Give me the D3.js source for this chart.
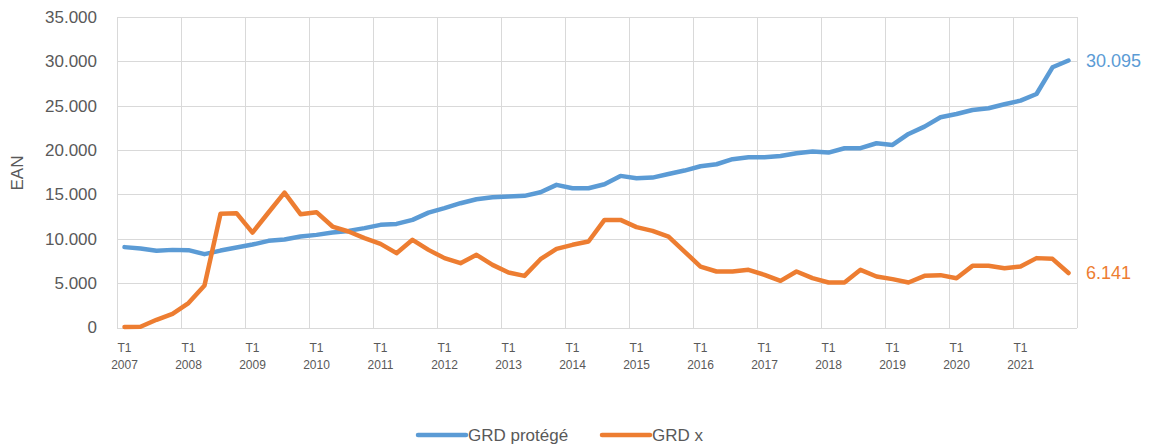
<!DOCTYPE html>
<html lang="fr">
<head>
<meta charset="utf-8">
<title>EAN GRD</title>
<script src="https://d3js.org/d3.v7.min.js"></script>
<style>
  html, body { margin: 0; padding: 0; background: #fff; }
  svg { display: block; font-family: "Liberation Sans", Arial, sans-serif; }
  .grid line { stroke: #d9d9d9; stroke-width: 1px; shape-rendering: crispEdges; }
  .axis text { fill: #595959; }
</style>
</head>
<body>
<svg id="chart" width="1151" height="445"></svg>
<script>
// quarterly data, T1 2007 .. T4 2021
var years = [2007, 2008, 2009, 2010, 2011, 2012, 2013, 2014, 2015, 2016, 2017, 2018, 2019, 2020, 2021];
var quarters = ["T1", "T2", "T3", "T4"];
var yTicks = [0, 5000, 10000, 15000, 20000, 25000, 30000, 35000];

var grdProtege = [
  9060, 8900, 8640, 8750,
  8720, 8270, 8670, 9010,
  9350, 9770, 9910, 10250,
  10440, 10700, 10890, 11200,
  11570, 11680, 12130, 12950,
  13450, 14010, 14460, 14690,
  14760, 14840, 15250, 16080,
  15700, 15700, 16150, 17090,
  16830, 16900, 17310, 17690,
  18180, 18400, 18970, 19190,
  19190, 19340, 19640, 19830,
  19720, 20210, 20210, 20770,
  20580, 21820, 22640, 23700,
  24070, 24520, 24710, 25160,
  25570, 26320, 29330, 30095
];
var grdX = [
  60, 80, 870, 1540,
  2750, 4730, 12810, 12890,
  10700, 12960, 15210, 12770,
  13000, 11380, 10820, 10070,
  9430, 8380, 9880, 8750,
  7820, 7250, 8190, 7060,
  6200, 5820, 7700, 8870,
  9320, 9690, 12130, 12130,
  11310, 10890, 10250, 8560,
  6870, 6310, 6310, 6500,
  5940, 5260, 6310, 5560,
  5070, 5070, 6500, 5750,
  5450, 5070, 5820, 5900,
  5560, 6950, 6950, 6690,
  6870, 7820, 7740, 6141
];

var categories = [];
years.forEach(function(y) {
  quarters.forEach(function(q) { categories.push({ q: q, year: y }); });
});

var series = [
  { name: "GRD protégé", values: grdProtege, color: "#5b9bd5" },
  { name: "GRD x", values: grdX, color: "#ed7d31" }
];

var fmt = function(v) { return d3.format(",")(v).replace(/,/g, "."); };

var svg = d3.select("#chart");
var plotLeft = 116.5, plotRight = 1076.5, plotTop = 17, plotBottom = 327.5;

var x = d3.scaleBand().domain(d3.range(categories.length)).range([plotLeft, plotRight]).paddingInner(0).paddingOuter(0);
var y = d3.scaleLinear().domain([0, 35000]).range([plotBottom, plotTop]);
var cx = function(i) { return x(i) + x.bandwidth() / 2; };

// horizontal gridlines
svg.append("g").attr("class", "grid")
  .selectAll("line").data(yTicks).enter().append("line")
  .attr("x1", plotLeft).attr("x2", plotRight)
  .attr("y1", function(d) { return Math.round(y(d)) + 0.5; })
  .attr("y2", function(d) { return Math.round(y(d)) + 0.5; });

// vertical gridlines every year
var vIdx = d3.range(categories.length).filter(function(i) { return i % 4 === 0; });
svg.append("g").attr("class", "grid")
  .selectAll("line").data(vIdx.map(function(i) { return x(i); }).concat([plotRight])).enter().append("line")
  .attr("x1", function(d) { return Math.round(d) + 0.5; })
  .attr("x2", function(d) { return Math.round(d) + 0.5; })
  .attr("y1", plotTop).attr("y2", plotBottom);

// y axis labels
svg.append("g").attr("class", "axis")
  .selectAll("text").data(yTicks).enter().append("text")
  .attr("x", 97).attr("y", function(d) { return y(d); })
  .attr("dy", "0.35em")
  .attr("text-anchor", "end")
  .style("font-size", "17px")
  .text(fmt);

svg.append("text")
  .attr("transform", "translate(23,173) rotate(-90)")
  .attr("text-anchor", "middle")
  .style("font-size", "17px")
  .style("fill", "#595959")
  .text("EAN");

// x axis labels
var xl = svg.append("g").attr("class", "axis")
  .selectAll("g").data(vIdx).enter().append("g");
xl.append("text")
  .attr("x", cx).attr("y", 352)
  .attr("text-anchor", "middle")
  .style("font-size", "12px")
  .text(function(i) { return categories[i].q; });
xl.append("text")
  .attr("x", cx).attr("y", 369)
  .attr("text-anchor", "middle")
  .style("font-size", "12px")
  .text(function(i) { return categories[i].year; });

// lines
var line = d3.line()
  .x(function(d, i) { return cx(i); })
  .y(function(d) { return y(d); });

svg.append("g").selectAll("path").data(series).enter().append("path")
  .attr("d", function(s) { return line(s.values); })
  .attr("fill", "none")
  .attr("stroke", function(s) { return s.color; })
  .attr("stroke-width", 4.5)
  .attr("stroke-linejoin", "round")
  .attr("stroke-linecap", "round");

// last value labels
svg.append("g").selectAll("text").data(series).enter().append("text")
  .attr("x", 1086)
  .attr("y", function(s) { return y(s.values[s.values.length - 1]); })
  .attr("dy", "0.35em")
  .style("font-size", "18px")
  .style("fill", function(s) { return s.color; })
  .text(function(s) { return fmt(s.values[s.values.length - 1]); });

// legend
var legendX = [418, 602];
var lg = svg.append("g").selectAll("g").data(series).enter().append("g")
  .attr("transform", function(s, i) { return "translate(" + legendX[i] + ",435)"; });
lg.append("line")
  .attr("x1", 0).attr("x2", 48)
  .attr("stroke", function(s) { return s.color; })
  .attr("stroke-width", 4.5)
  .attr("stroke-linecap", "round");
lg.append("text")
  .attr("x", 50).attr("dy", "0.35em")
  .style("font-size", "17px")
  .style("fill", "#595959")
  .text(function(s) { return s.name; });
</script>
</body>
</html>
